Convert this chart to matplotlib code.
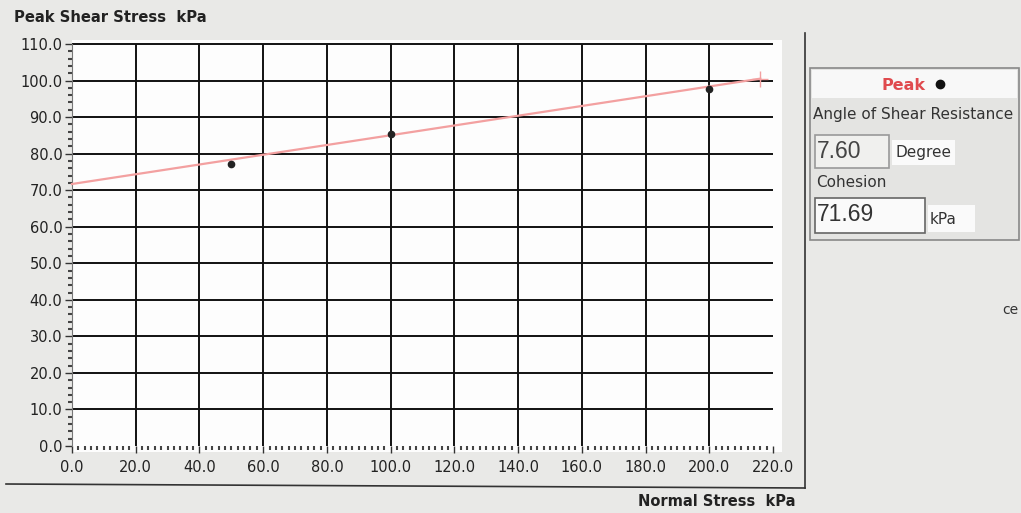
import numpy as np
import matplotlib
matplotlib.use("Agg")
import matplotlib.pyplot as plt
from matplotlib.patches import Rectangle
from matplotlib.lines import Line2D
from matplotlib.ticker import MultipleLocator, FormatStrFormatter

W, H = 1021, 513

# test results (peak)
normal_stress = [50.0, 100.0, 200.0]
peak_shear = [77.3, 85.4, 97.8]
cohesion = 71.69
friction_angle = 7.60
fit_end = 216.0

x_ticks = np.arange(0, 221, 20)
y_ticks = np.arange(0, 111, 10)


def fx(px):
    return px / W


def fy(py):
    return 1 - py / H


def box(x0, y0, x1, y1, face, edge='none', lw=1.0):
    fig.patches.append(Rectangle((fx(x0), fy(y1)), fx(x1) - fx(x0), fy(y0) - fy(y1),
                                 transform=fig.transFigure, facecolor=face,
                                 edgecolor=edge, lw=lw, zorder=-1))


def fline(xs, ys, color='#333333', lw=1.2):
    fig.add_artist(Line2D([fx(x) for x in xs], [fy(y) for y in ys],
                          transform=fig.transFigure, color=color, lw=lw))


fig = plt.figure(figsize=(W / 100, H / 100), dpi=100, facecolor='#e9e9e7')

# white field behind the graph
box(72, 40, 782, 452, '#fdfdfd')

ax = fig.add_axes([fx(72), fy(446), fx(773) - fx(72), fy(44) - fy(446)])
ax.set_facecolor('#fdfdfd')
ax.set_xlim(0, 220)
ax.set_ylim(0, 110)
ax.set_xticks(x_ticks)
ax.set_yticks(y_ticks)
ax.xaxis.set_minor_locator(MultipleLocator(2))
ax.yaxis.set_minor_locator(MultipleLocator(2))
ax.xaxis.set_major_formatter(FormatStrFormatter('%.1f'))
ax.yaxis.set_major_formatter(FormatStrFormatter('%.1f'))
ax.tick_params(which='major', direction='out', length=5, width=1.0, color='#333333',
               labelsize=10.5, labelcolor='#222222')
ax.tick_params(axis='x', which='major', pad=5)
ax.tick_params(axis='y', which='major', pad=2)
ax.tick_params(which='minor', direction='out', length=3, width=1.5, color='#444444')
for s in ['top', 'right', 'bottom']:
    ax.spines[s].set_visible(False)
ax.spines['left'].set_color('#777777')
ax.spines['left'].set_linewidth(0.8)

# grid
ax.vlines(x_ticks[1:-1], 0, 110, color='#111111', lw=1.4, zorder=1, clip_on=False)
ax.hlines(y_ticks[1:], 0, 220, color='#111111', lw=1.4, zorder=1, clip_on=False)

# failure envelope
xf = np.array([0.0, fit_end])
yf = cohesion + np.tan(np.radians(friction_angle)) * xf
ax.plot(xf, yf, color='#f3a0a0', lw=1.6, zorder=3, clip_on=False)
ax.plot([xf[-1]], [yf[-1]], marker='+', ms=11, mew=1.0, color='#f3a0a0', zorder=3, clip_on=False)
ax.plot(normal_stress, peak_shear, 'o', color='#222222', ms=4.5, zorder=4)

# frame lines
fline([805, 805], [33, 488])
fline([6, 805], [484, 488])

fig.text(fx(14), fy(17), 'Peak Shear Stress  kPa', fontsize=10.6, fontweight='bold',
         color='#222222', va='center', ha='left')
fig.text(fx(795), fy(502), 'Normal Stress  kPa', fontsize=10.5, fontweight='bold',
         color='#222222', va='center', ha='right')

# result panel
box(810, 68, 1019, 240, '#e4e4e2', '#888888', 1.2)
box(812, 70, 1017, 98, '#f8f8f8')
fig.text(fx(903), fy(85), 'Peak', fontsize=11.5, fontweight='bold', color='#e04a4e',
         ha='center', va='center')
fig.add_artist(Line2D([fx(940)], [fy(84)], marker='o', ms=6, color='#111111',
                      transform=fig.transFigure))
fig.text(fx(813), fy(115), 'Angle of Shear Resistance', fontsize=11, color='#333333',
         ha='left', va='center')
box(815, 135, 889, 168, '#f0f0ee', '#999999', 1.2)
fig.text(fx(817), fy(152), '%.2f' % friction_angle, fontsize=16.5, family='Liberation Sans',
         color='#444444', ha='left', va='center')
box(892, 140, 955, 165, '#fafafa')
fig.text(fx(895), fy(153), 'Degree', fontsize=11, color='#333333', ha='left', va='center')
fig.text(fx(816), fy(183), 'Cohesion', fontsize=11, color='#333333', ha='left', va='center')
box(815, 198, 925, 233, '#fafafa', '#666666', 1.2)
fig.text(fx(817), fy(215), '%.2f' % cohesion, fontsize=16.5, family='Liberation Sans',
         color='#333333', ha='left', va='center')
box(928, 205, 975, 232, '#fafafa')
fig.text(fx(930), fy(220), 'kPa', fontsize=11, color='#333333', ha='left', va='center')
fig.text(fx(1002), fy(310), 'ce', fontsize=10, color='#333333', ha='left', va='center')

fig.savefig('out.png', dpi=100, facecolor=fig.get_facecolor())
